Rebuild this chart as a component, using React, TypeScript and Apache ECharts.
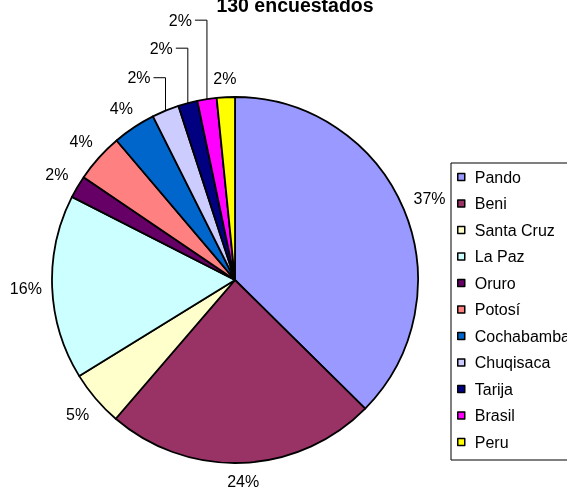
import React, { useEffect, useRef } from "react";
import * as echarts from "echarts";

// Data (shares in percent of respondents)
const categories = [
  "Pando",
  "Beni",
  "Santa Cruz",
  "La Paz",
  "Oruro",
  "Potosí",
  "Cochabamba",
  "Chuqisaca",
  "Tarija",
  "Brasil",
  "Peru",
];
const shares = [37.4, 23.9, 4.9, 16.3, 2.0, 4.3, 3.8, 2.4, 1.7, 1.7, 1.6];
const colors = [
  "#9999FF",
  "#993366",
  "#FFFFCC",
  "#CCFFFF",
  "#660066",
  "#FF8080",
  "#0066CC",
  "#CCCCFF",
  "#000080",
  "#FF00FF",
  "#FFFF00",
];
const titleText = "130 encuestados";

// Layout / style settings
const FONT = '"Liberation Sans", Arial, sans-serif';
const CX = 235;
const CY = 280;
const R = 183;
const LABEL_GAP = 10;
const leaderLift: Record<string, number> = { Chuqisaca: 33, Tarija: 55, Brasil: 79 };

export default function App() {
  const ref = useRef<HTMLDivElement>(null);

  useEffect(() => {
    const chart = echarts.init(ref.current!, null, { renderer: "svg" });
    const total = shares.reduce((a, b) => a + b, 0);
    const mids: number[] = [];
    let acc = 0;
    shares.forEach((v) => {
      mids.push(((acc + v / 2) / total) * Math.PI * 2);
      acc += v;
    });

    chart.setOption({
      animation: false,
      graphic: [
        {
          type: "text",
          x: 295,
          y: 5,
          style: {
            text: titleText,
            font: `bold 19.5px ${FONT}`,
            fill: "#000",
            align: "center",
            verticalAlign: "middle",
          },
        },
      ],
      legend: {
        orient: "vertical",
        left: 451,
        top: 163,
        padding: [6, 40, 10, 6],
        itemGap: 10.5,
        itemWidth: 7,
        itemHeight: 7,
        icon: "rect",
        borderColor: "#000",
        borderWidth: 1,
        selectedMode: false,
        itemStyle: { borderColor: "#000", borderWidth: 1.5 },
        textStyle: {
          fontSize: 16,
          fontFamily: FONT,
          color: "#000",
          lineHeight: 16,
          padding: [0, 0, 0, 5],
        },
        data: categories,
      },
      series: [
        {
          type: "pie",
          center: [CX, CY],
          radius: R,
          startAngle: 90,
          clockwise: true,
          avoidLabelOverlap: false,
          percentPrecision: 0,
          silent: true,
          itemStyle: { borderColor: "#000", borderWidth: 1.8 },
          label: {
            show: true,
            position: "outside",
            formatter: (p: any) => `${p.percent}%`,
            color: "#000",
            fontSize: 16,
            fontFamily: FONT,
          },
          labelLine: { show: false, lineStyle: { color: "#000", width: 1 } },
          labelLayout: (p: any) => {
            const i = p.dataIndex;
            const a = mids[i];
            const sx = Math.sin(a);
            const sy = -Math.cos(a);
            const lift = leaderLift[categories[i]];
            if (lift === undefined) {
              const w = p.labelRect ? p.labelRect.width : 30;
              const h = p.labelRect ? p.labelRect.height : 16;
              const d = R + LABEL_GAP + (Math.abs(sx) * w) / 2 + (Math.abs(sy) * h) / 2;
              return {
                x: CX + d * sx,
                y: CY + d * sy,
                align: "center",
                verticalAlign: "middle",
              };
            }
            const px = CX + R * sx;
            const py = CY + R * sy;
            const ly = py - lift;
            return {
              x: px - 15,
              y: ly,
              align: "right",
              verticalAlign: "middle",
              labelLinePoints: [
                [px, py],
                [px, ly],
                [px - 12, ly],
              ],
            };
          },
          data: categories.map((name, i) => ({
            name,
            value: shares[i],
            itemStyle: { color: colors[i] },
            labelLine: { show: leaderLift[name] !== undefined },
          })),
        },
      ],
    });

    return () => chart.dispose();
  }, []);

  return (
    <div
      ref={ref}
      style={{ position: "fixed", left: 0, top: 0, width: 567, height: 489 }}
    />
  );
}
